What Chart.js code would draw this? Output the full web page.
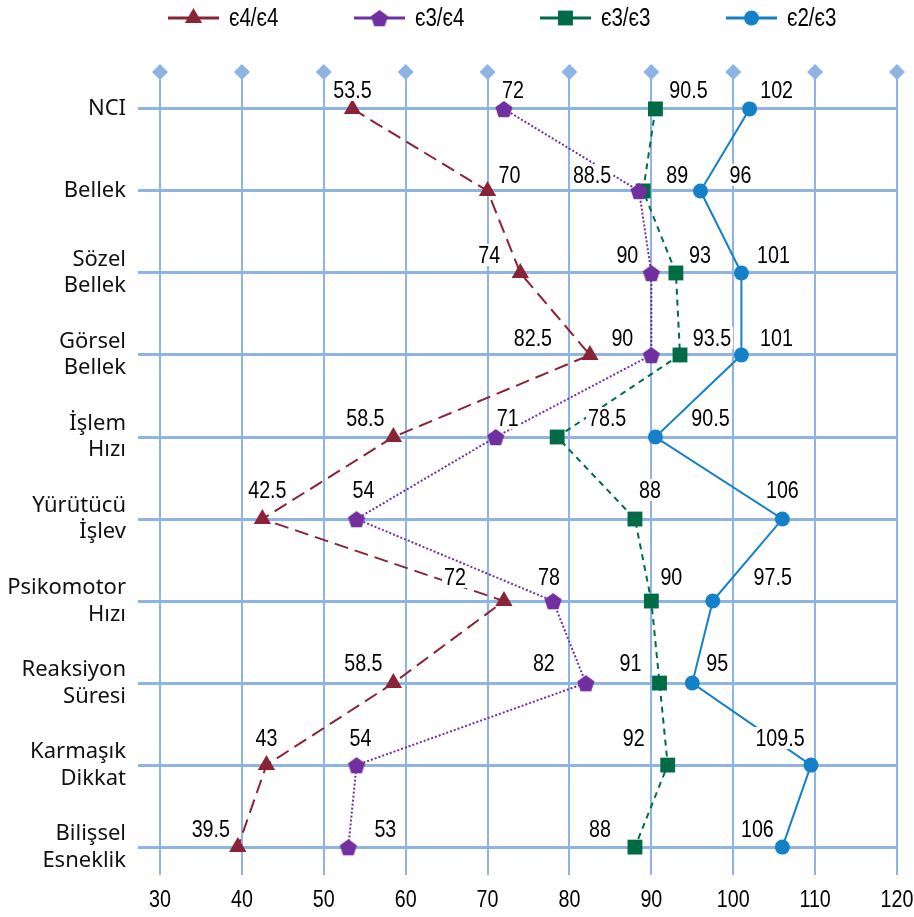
<!DOCTYPE html>
<html>
<head>
<meta charset="utf-8">
<script src="https://cdn.jsdelivr.net/npm/chart.js@4.4.1/dist/chart.umd.min.js"></script>
<style>
  html, body { margin: 0; padding: 0; background: #fff; }
  #wrap { width: 914px; height: 917px; }
</style>
</head>
<body>
<div id="wrap"><canvas id="chart" width="914" height="917"></canvas></div>
<script>
// categories top to bottom
const categories = [
  'NCI', 'Bellek', ['Sözel', 'Bellek'], ['Görsel', 'Bellek'], ['İşlem', 'Hızı'],
  ['Yürütücü', 'İşlev'], ['Psikomotor', 'Hızı'], ['Reaksiyon', 'Süresi'],
  ['Karmaşık', 'Dikkat'], ['Bilişsel', 'Esneklik']
];
const xTicks = [30, 40, 50, 60, 70, 80, 90, 100, 110, 120];

const e4e4 = [53.5, 70, 74, 82.5, 58.5, 42.5, 72, 58.5, 43, 39.5];
const e3e4 = [72, 88.5, 90, 90, 71, 54, 78, 82, 54, 53];
const e3e3 = [90.5, 89, 93, 93.5, 78.5, 88, 90, 91, 92, 88];
const e2e3 = [102, 96, 101, 101, 90.5, 106, 97.5, 95, 109.5, 106];

// label placement (px) — per row vertical, per series horizontal
const rowDy = [-19, -16, -18, -17, -19, -29, -24, -20, -27, -18];
const dxE4E4 = [0, 22, -31, -57, -28, 5, -49, -30, 0, -27];
const dxE3E4 = [9, -47, -24, -29, 12, 7, -4, -42, 4, 37];
const dxE3E3 = [33, 34, 24, 32, 50, 15, 20, -29, -34, -35];
const dxE2E3 = [27, 40, 32, 35, 55, 0, 60, 25, -31, -25];

const GRID = '#8DB4E2';
const NUM_FONT = "24px 'Liberation Sans', Arial, sans-serif";
const SQUEEZE = 0.82; // Arial Narrow look
const Y_MIN = -0.45, Y_MAX = 9.34;

function pentagon(r, color) {
  const c = document.createElement('canvas');
  const s = Math.ceil(r * 2) + 2;
  c.width = s; c.height = s;
  const g = c.getContext('2d');
  g.fillStyle = color;
  g.beginPath();
  for (let k = 0; k < 5; k++) {
    const a = -Math.PI / 2 + k * 2 * Math.PI / 5;
    const px = s / 2 + r * Math.cos(a), py = s / 2 + 1 + r * Math.sin(a);
    if (k === 0) g.moveTo(px, py); else g.lineTo(px, py);
  }
  g.closePath();
  g.fill();
  return c;
}

function toPoints(arr) {
  return arr.map(function (v, i) { return { x: v, y: i }; });
}

function narrowText(ctx, txt, x, y, align) {
  ctx.save();
  ctx.translate(x, y);
  ctx.scale(SQUEEZE, 1);
  ctx.textAlign = align;
  ctx.fillText(txt, 0, 0);
  ctx.restore();
  return ctx.measureText(txt).width * SQUEEZE;
}

const series = [
  { label: 'є4/є4', data: e4e4, color: '#8B2336', style: 'triangle', radius: 10, dash: [14, 7], dx: dxE4E4 },
  { label: 'є3/є4', data: e3e4, color: '#7030A0', style: pentagon(9, '#7030A0'), radius: 9, dash: [2, 2], dx: dxE3E4 },
  { label: 'є3/є3', data: e3e3, color: '#006B45', style: 'rect', radius: 10.5, dash: [6, 5], dx: dxE3E3 },
  { label: 'є2/є3', data: e2e3, color: '#1380C8', style: 'circle', radius: 7.5, dash: [], dx: dxE2E3 }
];

const datasets = series.map(function (s) {
  return {
    label: s.label,
    data: toPoints(s.data),
    showLine: true,
    borderColor: s.color,
    backgroundColor: s.color,
    borderWidth: 2,
    borderDash: s.dash,
    pointStyle: s.style,
    pointRadius: s.radius,
    pointBorderWidth: 0,
    pointBackgroundColor: s.color,
    tension: 0
  };
});

// diamond markers along the top edge
datasets.push({
  label: '_top',
  data: xTicks.map(function (v) { return { x: v, y: Y_MIN }; }),
  showLine: false,
  pointStyle: 'rectRot',
  pointRadius: 8,
  pointBorderWidth: 0,
  pointBackgroundColor: GRID,
  clip: false
});

const valueLabels = {
  id: 'valueLabels',
  afterDatasetsDraw(chart) {
    const ctx = chart.ctx;
    ctx.save();
    ctx.font = NUM_FONT;
    ctx.textBaseline = 'middle';
    series.forEach(function (s, di) {
      const meta = chart.getDatasetMeta(di);
      meta.data.forEach(function (pt, i) {
        const txt = String(s.data[i]);
        const x = pt.x + s.dx[i];
        const y = pt.y + rowDy[i];
        const w = ctx.measureText(txt).width * SQUEEZE;
        ctx.fillStyle = '#fff';
        ctx.fillRect(x - w / 2 - 2, y - 11, w + 4, 22);
        ctx.fillStyle = '#000';
        narrowText(ctx, txt, x, y + 1, 'center');
      });
    });
    // x axis numbers
    const xs = chart.scales.x;
    ctx.fillStyle = '#000';
    xTicks.forEach(function (v) {
      narrowText(ctx, String(v), xs.getPixelForValue(v), xs.bottom - 17, 'center');
    });
    ctx.restore();
  }
};

const topLegend = {
  id: 'topLegend',
  afterDraw(chart) {
    const ctx = chart.ctx;
    ctx.save();
    ctx.font = "25px 'Liberation Sans', Arial, sans-serif";
    ctx.textBaseline = 'middle';
    let x = 168;
    const y = 18;
    series.forEach(function (s) {
      ctx.strokeStyle = s.color;
      ctx.fillStyle = s.color;
      ctx.lineWidth = 3;
      ctx.setLineDash([]);
      ctx.beginPath();
      ctx.moveTo(x, y);
      ctx.lineTo(x + 51, y);
      ctx.stroke();
      Chart.helpers.drawPoint(ctx, { pointStyle: s.style, radius: s.radius, rotation: 0, borderWidth: 0 }, x + 25.5, y);
      ctx.fillStyle = '#000';
      narrowText(ctx, s.label, x + 61, y + 1, 'left');
      x += 186;
    });
    ctx.restore();
  }
};

new Chart(document.getElementById('chart'), {
  type: 'scatter',
  data: { datasets: datasets },
  plugins: [valueLabels, topLegend],
  options: {
    responsive: false,
    animation: false,
    devicePixelRatio: 1,
    layout: { padding: { top: 72, right: 17, left: 0, bottom: 0 } },
    plugins: {
      legend: { display: false },
      tooltip: { enabled: false }
    },
    scales: {
      x: {
        type: 'linear',
        min: 30,
        max: 120,
        afterBuildTicks: function (s) { s.ticks = xTicks.map(function (v) { return { value: v }; }); },
        afterFit: function (s) { s.height = 42; },
        grid: { color: GRID, lineWidth: 2, drawTicks: false },
        border: { display: false },
        ticks: { display: false }
      },
      y: {
        type: 'linear',
        reverse: true,
        min: Y_MIN,
        max: Y_MAX,
        afterBuildTicks: function (s) { s.ticks = categories.map(function (c, i) { return { value: i }; }); },
        afterFit: function (s) { s.width = 160; },
        grid: { color: GRID, lineWidth: 3, tickLength: 22, tickColor: GRID },
        border: { display: false },
        ticks: {
          color: '#111',
          padding: 12,
          font: { family: "'Noto Sans', 'Open Sans', sans-serif", size: 22, lineHeight: 1.2 },
          callback: function (v) { return categories[v]; }
        }
      }
    }
  }
});
</script>
</body>
</html>
